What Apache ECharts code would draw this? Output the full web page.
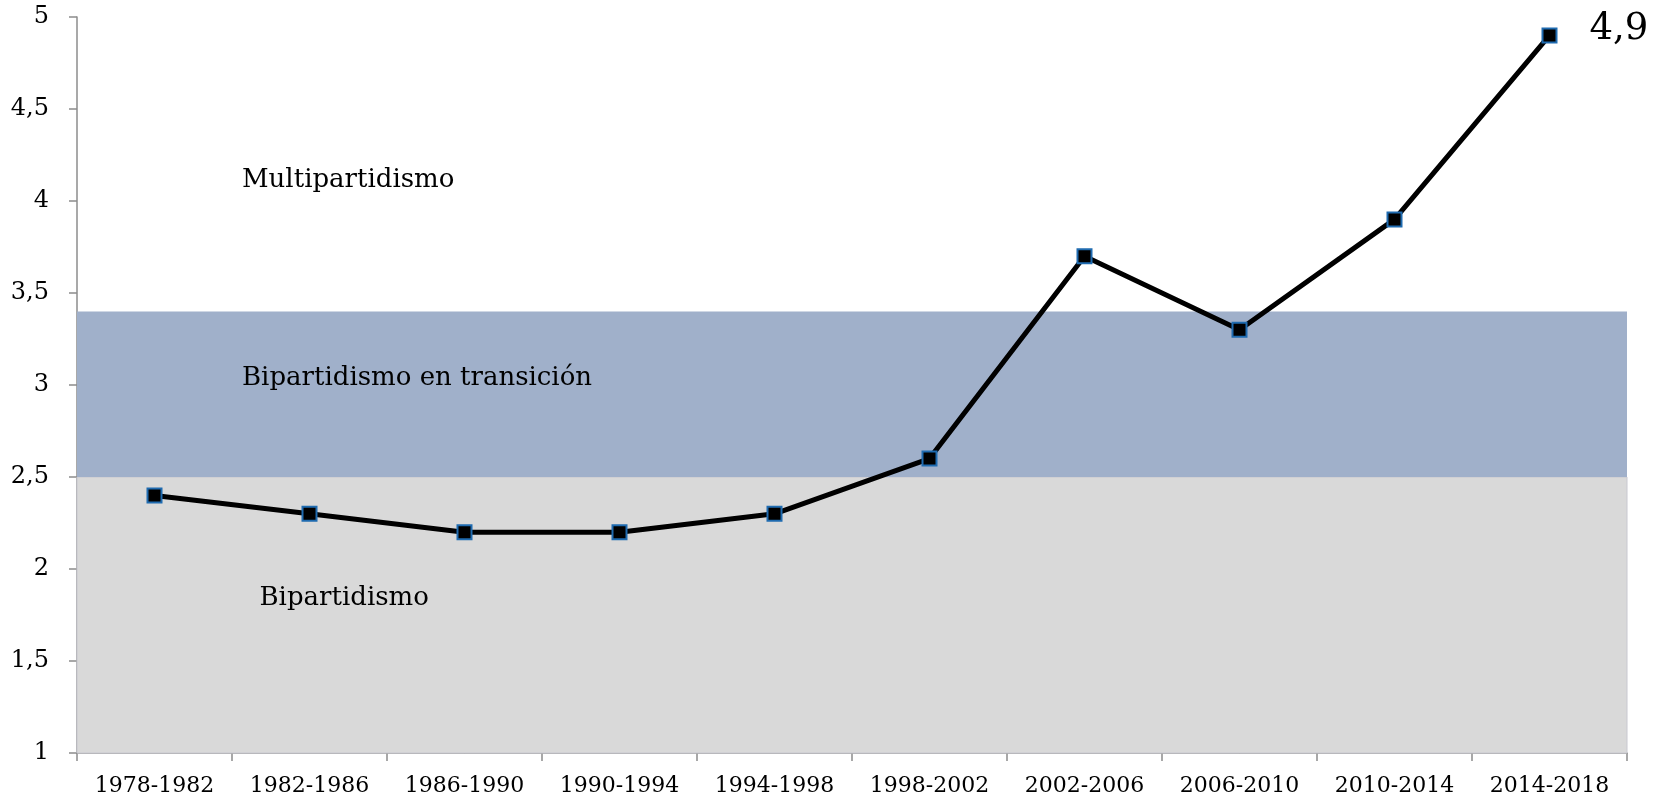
<!DOCTYPE html>
<html>
<head>
<meta charset="utf-8">
<script src="https://cdn.jsdelivr.net/npm/echarts@6/dist/echarts.min.js"></script>
<style>
html, body { margin: 0; padding: 0; background: #fff; }
#chart { width: 1663px; height: 802px; }
</style>
</head>
<body>
<div id="chart"></div>
<script>
// periodos electorales
var periods = ['1978-1982', '1982-1986', '1986-1990', '1990-1994', '1994-1998',
    '1998-2002', '2002-2006', '2006-2010', '2010-2014', '2014-2018'];
// numero efectivo de partidos
var values = [2.4, 2.3, 2.2, 2.2, 2.3, 2.6, 3.7, 3.3, 3.9, 4.9];
// franjas: [desde, hasta, nombre]
var bands = [
    [1, 2.5, 'Bipartidismo'],
    [2.5, 3.4, 'Bipartidismo en transición'],
    [3.4, 5, 'Multipartidismo']
];
var yTicks = [1, 1.5, 2, 2.5, 3, 3.5, 4, 4.5, 5];

var font = 'DejaVu Serif';
var bandStyle = [
    { color: '#d9d9d9', borderColor: '#c8c8d0', borderWidth: 1, dx: 183, dy: -17 },
    { color: '#a0b0ca', borderColor: 'transparent', borderWidth: 0, dx: 165, dy: -16 },
    { color: 'transparent', borderColor: 'transparent', borderWidth: 0, dx: 165, dy: 16 }
];

var chart = echarts.init(document.getElementById('chart'));
var option = {
    animation: false,
    backgroundColor: '#ffffff',
    grid: { left: 77, right: 36, top: 17, bottom: 49 },
    xAxis: {
        type: 'category',
        data: periods,
        boundaryGap: true,
        axisLine: { lineStyle: { color: '#8c8c8c', width: 1.5 } },
        axisTick: { show: true, length: 8, interval: 0, lineStyle: { color: '#8c8c8c', width: 1.5 } },
        axisLabel: { color: '#000', fontFamily: font, fontSize: 22, margin: 22, interval: 0 },
        splitLine: { show: false }
    },
    yAxis: {
        type: 'value',
        min: yTicks[0],
        max: yTicks[yTicks.length - 1],
        interval: 0.5,
        axisLine: { show: true, lineStyle: { color: '#8c8c8c', width: 1.5 } },
        axisTick: { show: true, length: 8, lineStyle: { color: '#8c8c8c', width: 1.5 } },
        axisLabel: {
            color: '#000', fontFamily: font, fontSize: 24, margin: 28,
            formatter: function (v) { return String(v).replace('.', ','); }
        },
        splitLine: { show: false }
    },
    series: [{
        type: 'line',
        data: values,
        symbol: 'rect',
        symbolSize: 14,
        lineStyle: { color: '#000', width: 5 },
        itemStyle: { color: '#000', borderColor: '#1f6bb0', borderWidth: 2 },
        z: 5,
        label: {
            show: true,
            position: 'right',
            distance: 32,
            offset: [0, -6],
            fontFamily: font,
            fontSize: 37,
            color: '#000',
            formatter: function (p) {
                return p.dataIndex === values.length - 1 ? String(p.value).replace('.', ',') : '';
            }
        },
        markArea: {
            silent: true,
            z: 1,
            data: bands.map(function (b, i) {
                var s = bandStyle[i];
                return [{
                    yAxis: b[0],
                    name: b[2],
                    itemStyle: { color: s.color, borderColor: s.borderColor, borderWidth: s.borderWidth },
                    label: {
                        show: true,
                        position: 'insideLeft',
                        distance: s.dx,
                        offset: [0, s.dy],
                        color: '#000',
                        fontFamily: font,
                        fontSize: 26
                    }
                }, { yAxis: b[1] }];
            })
        }
    }]
};
chart.setOption(option);
</script>
</body>
</html>
